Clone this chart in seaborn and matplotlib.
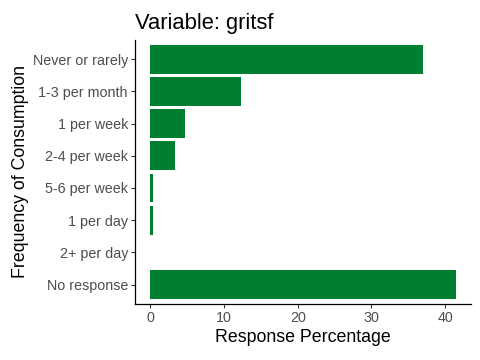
import matplotlib
matplotlib.use("Agg")
import matplotlib.pyplot as plt
import seaborn as sns
import pandas as pd

categories = ["Never or rarely", "1-3 per month", "1 per week", "2-4 per week",
              "5-6 per week", "1 per day", "2+ per day", "No response"]
percentages = [37.0, 12.35, 4.75, 3.4, 0.4, 0.4, 0.0, 41.4]

df = pd.DataFrame({"freq": categories, "pct": percentages})

sns.set_style("white")
plt.rcParams["font.family"] = ["Liberation Sans", "DejaVu Sans"]

fig = plt.figure(figsize=(4.8, 3.6), dpi=100)
ax = fig.add_axes([0.281, 0.156, 0.700, 0.733])

sns.barplot(data=df, x="pct", y="freq", order=categories, color="#007F31",
            saturation=1, width=0.9, linewidth=0, ax=ax)

ax.set_xlim(-2.07, 43.47)
ax.set_ylim(7.6, -0.6)
ax.set_xticks([0, 10, 20, 30, 40])
ax.set_xlabel("Response Percentage", fontsize=12.8, color="black", labelpad=3)
ax.set_ylabel("Frequency of Consumption", fontsize=12.8, color="black", labelpad=3)
ax.set_title("Variable: gritsf", fontsize=15.8, loc="left", x=0.0, pad=8,
             color="black")

for s in ["top", "right"]:
    ax.spines[s].set_visible(False)
for s in ["left", "bottom"]:
    ax.spines[s].set_color("black")
    ax.spines[s].set_linewidth(0.9)
ax.tick_params(axis="both", length=3, width=0.8, color="#333333",
               labelcolor="#4D4D4D", labelsize=10.3, pad=2, left=True, bottom=True)

fig.savefig("out.png", dpi=100)
